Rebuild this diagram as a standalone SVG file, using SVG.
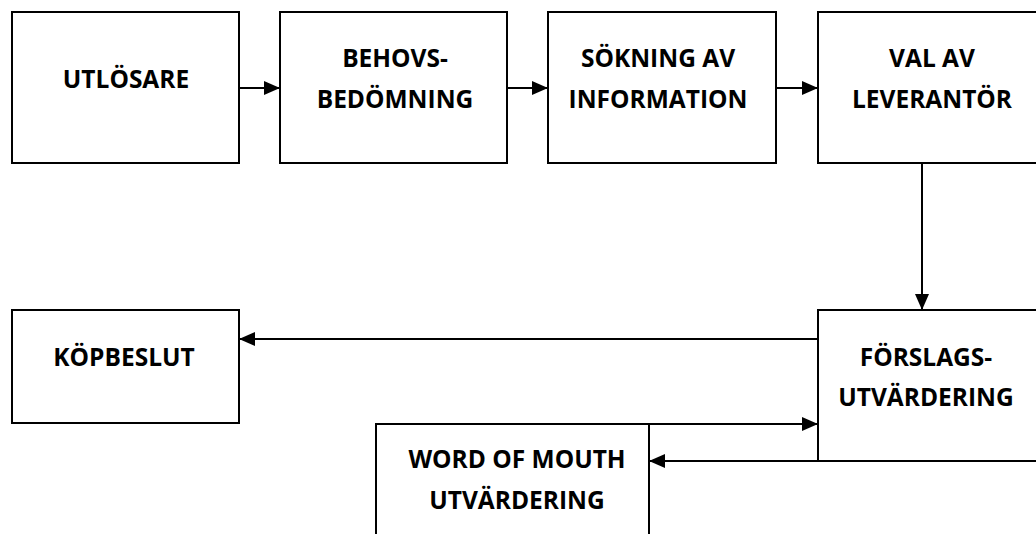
<svg xmlns="http://www.w3.org/2000/svg" width="1036" height="534" viewBox="0 0 1036 534">
<style>
.box{fill:#fff;stroke:#000;stroke-width:2}
.lbl{font-family:"Open Sans","Liberation Sans",sans-serif;font-weight:bold;font-size:24.5px;fill:#000;text-anchor:middle}
.conn{fill:none;stroke:#000;stroke-width:2}
</style>
<defs>
<marker id="ah" viewBox="0 0 16 14" refX="16" refY="7" markerWidth="16" markerHeight="14" markerUnits="userSpaceOnUse" orient="auto">
<path d="M0,0 L16,7 L0,14 Z" fill="#000"/>
</marker>
</defs>
<rect width="1036" height="534" fill="#fff"/>
<g id="n1"><rect class="box" x="12" y="12" width="227" height="151"/><text class="lbl" x="126" y="88">UTLÖSARE</text></g>
<g id="n2"><rect class="box" x="280" y="12" width="227" height="151"/><text class="lbl" x="395" y="67">BEHOVS-</text><text class="lbl" x="395" y="108">BEDÖMNING</text></g>
<g id="n3"><rect class="box" x="548" y="12" width="228" height="151"/><text class="lbl" x="658" y="67">SÖKNING AV</text><text class="lbl" x="658" y="108">INFORMATION</text></g>
<g id="n4"><rect class="box" x="818" y="12" width="227" height="151"/><text class="lbl" x="932" y="67">VAL AV</text><text class="lbl" x="932" y="108">LEVERANTÖR</text></g>
<g id="n5"><rect class="box" x="818" y="310" width="227" height="151"/><text class="lbl" x="926" y="366">FÖRSLAGS-</text><text class="lbl" x="926" y="406">UTVÄRDERING</text></g>
<g id="n6"><rect class="box" x="12" y="310" width="227" height="113"/><text class="lbl" x="124" y="366">KÖPBESLUT</text></g>
<g id="n7"><rect class="box" x="376" y="424" width="273" height="120"/><text class="lbl" x="517" y="468">WORD OF MOUTH</text><text class="lbl" x="517" y="509">UTVÄRDERING</text></g>
<g id="connectors">
<line class="conn" x1="239" y1="88" x2="280" y2="88" marker-end="url(#ah)"/>
<line class="conn" x1="507" y1="88" x2="548" y2="88" marker-end="url(#ah)"/>
<line class="conn" x1="776" y1="88" x2="818" y2="88" marker-end="url(#ah)"/>
<line class="conn" x1="922" y1="163" x2="922" y2="310" marker-end="url(#ah)"/>
<line class="conn" x1="818" y1="339" x2="239" y2="339" marker-end="url(#ah)"/>
<line class="conn" x1="649" y1="424" x2="818" y2="424" marker-end="url(#ah)"/>
<line class="conn" x1="818" y1="461" x2="649" y2="461" marker-end="url(#ah)"/>
</g>
</svg>
